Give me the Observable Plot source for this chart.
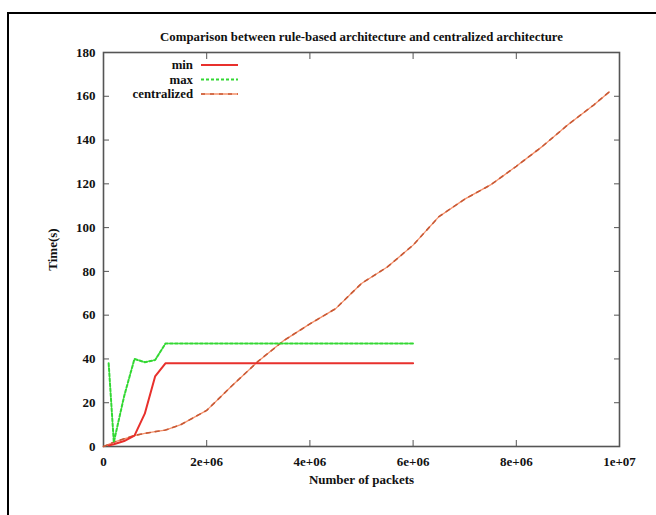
<!DOCTYPE html>
<html><head><meta charset="utf-8">
<script src="https://cdn.jsdelivr.net/npm/d3@7"></script>
<script src="https://cdn.jsdelivr.net/npm/@observablehq/plot@0.6"></script>
<style>
body{margin:0;background:#fff;}
#wrap{position:relative;width:656px;height:515px;overflow:hidden;background:#fff;}
#border{position:absolute;left:7px;top:12px;width:700px;height:600px;border-left:2.5px solid #000;border-top:2.5px solid #000;}
#chart{position:absolute;left:0;top:0;}
</style></head><body>
<div id="wrap"><div id="border"></div><div id="chart"></div></div>
<script>
const titleText = "Comparison between rule-based architecture and centralized architecture";
const xLabel = "Number of packets";
const yLabel = "Time(s)";
const seriesNames = ["min", "max", "centralized"];

const minPackets = [1e5, 2e5, 4e5, 6e5, 8e5, 1e6, 1.2e6, 2e6, 3e6, 4e6, 5e6, 6e6];
const minTime    = [0.5, 1, 2.5, 5, 15, 32, 38, 38, 38, 38, 38, 38];

const maxPackets = [1e5, 2e5, 4e5, 6e5, 8e5, 1e6, 1.2e6, 2e6, 3e6, 4e6, 5e6, 6e6];
const maxTime    = [38, 2, 23, 40, 38.5, 39.5, 47, 47, 47, 47, 47, 47];

const centralPackets = [0, 2e5, 4e5, 6e5, 8e5, 1e6, 1.2e6, 1.5e6, 2e6, 2.5e6, 3e6, 3.5e6, 4e6, 4.5e6, 5e6, 5.5e6, 6e6, 6.5e6, 7e6, 7.5e6, 8e6, 8.5e6, 9e6, 9.5e6, 9.8e6];
const centralTime    = [0, 2, 3.5, 5, 6, 6.8, 7.5, 10, 16.5, 28, 39, 48.5, 56, 63, 74.5, 82, 92, 105, 113, 119.5, 128, 137, 147, 156, 162];

const xTicks = [0, 2e6, 4e6, 6e6, 8e6, 1e7];
const yTicks = [0, 20, 40, 60, 80, 100, 120, 140, 160, 180];

const minRows = minPackets.map((x, i) => ({x, y: minTime[i]}));
const maxRows = maxPackets.map((x, i) => ({x, y: maxTime[i]}));
const centralRows = centralPackets.map((x, i) => ({x, y: centralTime[i]}));

const fmt = d => d === 0 ? "0" : d.toExponential(0).replace(/e\+(\d)$/, "e+0$1");
const blank = () => "";
const font = "'Liberation Serif', 'DejaVu Serif', serif";
const colors = {min: "#e8302c", max: "#33d833", central: "#f4906a", centralDash: "#c85a36"};

const plot = Plot.plot({
  width: 656,
  height: 515,
  marginLeft: 103,
  marginRight: 37,
  marginTop: 52,
  marginBottom: 69,
  style: {fontFamily: font, fontSize: "13px", fontWeight: "bold", background: "transparent", color: "#111"},
  x: {domain: [0, 1e7]},
  y: {domain: [0, 180]},
  marks: [
    Plot.axisX({ticks: xTicks, tickFormat: fmt, anchor: "bottom", tickSize: -6, tickPadding: 16, label: xLabel, labelAnchor: "center", labelOffset: 37, labelArrow: "none", stroke: "#555"}),
    Plot.axisX({ticks: xTicks, tickFormat: blank, anchor: "top", tickSize: -6, label: null, stroke: "#555"}),
    Plot.axisY({ticks: yTicks, anchor: "left", tickSize: -6, tickPadding: 14, label: yLabel, labelAnchor: "center", labelOffset: 56, labelArrow: "none", stroke: "#555"}),
    Plot.axisY({ticks: yTicks, anchor: "right", tickSize: -6, tickFormat: blank, label: null, stroke: "#555"}),
    Plot.frame({stroke: "#555", strokeWidth: 1.6}),
    Plot.line(centralRows, {x: "x", y: "y", stroke: colors.central, strokeWidth: 1.3}),
    Plot.line(centralRows, {x: "x", y: "y", stroke: colors.centralDash, strokeWidth: 1.6, strokeDasharray: "4,5"}),
    Plot.line(maxRows, {x: "x", y: "y", stroke: colors.max, strokeWidth: 2, strokeDasharray: "3,2"}),
    Plot.line(minRows, {x: "x", y: "y", stroke: colors.min, strokeWidth: 2}),
    Plot.text([titleText], {frameAnchor: "top", dy: -21, fontSize: 12.8, fontWeight: "bold"})
  ]
});
document.getElementById("chart").appendChild(plot);

// legend
const svg = d3.select(plot);
const leg = svg.append("g").attr("font-family", font).attr("font-size", 12.8).attr("font-weight", "bold");
const legItems = [
  {name: seriesNames[0], stroke: colors.min, dash: null, w: 2},
  {name: seriesNames[1], stroke: colors.max, dash: "3,2", w: 2},
  {name: seriesNames[2], stroke: colors.central, dash: null, w: 1.3, over: colors.centralDash}
];
legItems.forEach((d, i) => {
  const y = 65 + i * 14.5;
  leg.append("text").attr("x", 193).attr("y", y).attr("dy", "0.35em").attr("text-anchor", "end").attr("fill", "#111").text(d.name);
  leg.append("line").attr("x1", 201).attr("x2", 238).attr("y1", y).attr("y2", y).attr("stroke", d.stroke).attr("stroke-width", d.w).attr("stroke-dasharray", d.dash);
  if (d.over) leg.append("line").attr("x1", 201).attr("x2", 238).attr("y1", y).attr("y2", y).attr("stroke", d.over).attr("stroke-width", 1.6).attr("stroke-dasharray", "4,5");
});
</script>
</body></html>
